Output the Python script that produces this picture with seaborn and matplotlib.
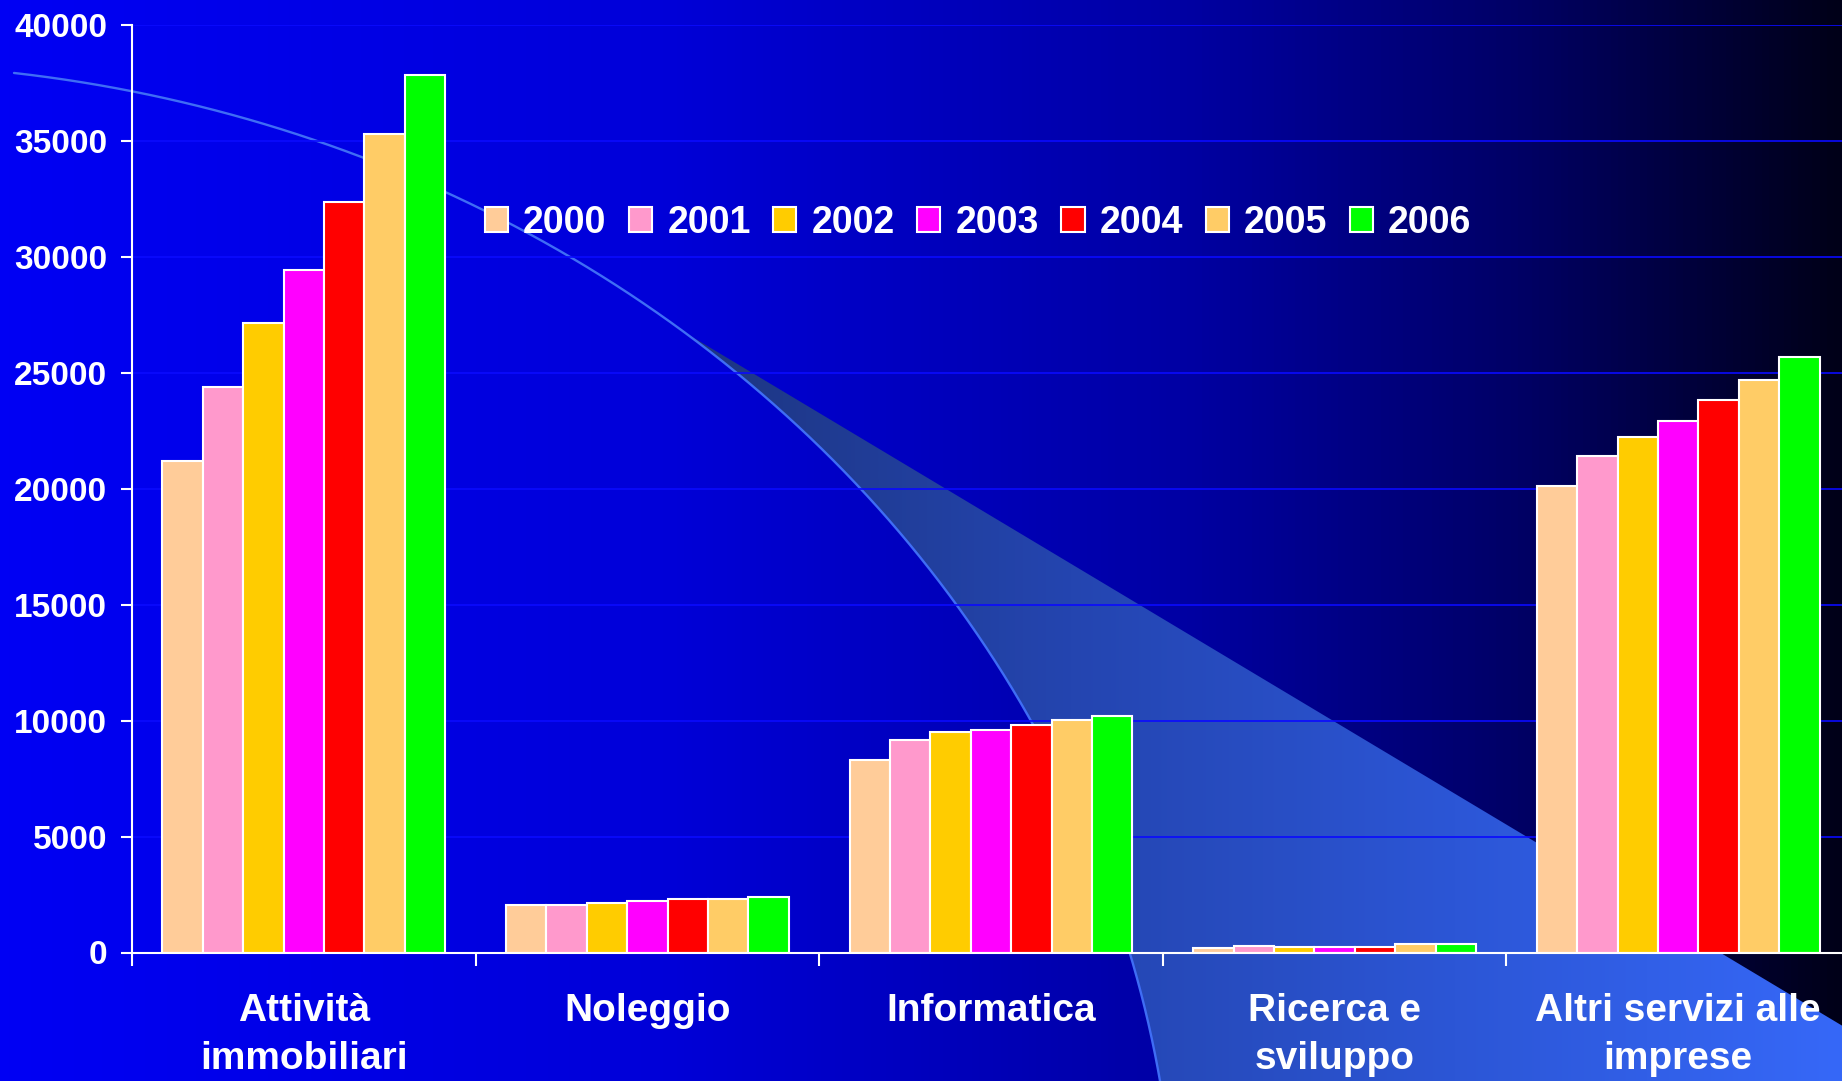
import numpy as np
import pandas as pd
import matplotlib
matplotlib.use("Agg")
import matplotlib.pyplot as plt
from matplotlib.colors import LinearSegmentedColormap
from matplotlib.patches import Polygon
import seaborn as sns

categorie = ["Attività\nimmobiliari", "Noleggio", "Informatica",
             "Ricerca e\nsviluppo", "Altri servizi alle\nimprese"]
anni = ["2000", "2001", "2002", "2003", "2004", "2005", "2006"]

attivita_immobiliari = [21200, 24400, 27150, 29440, 32370, 35300, 37850]
noleggio = [2050, 2050, 2150, 2240, 2320, 2310, 2410]
informatica = [8310, 9150, 9490, 9580, 9820, 10010, 10180]
ricerca_sviluppo = [190, 280, 250, 250, 250, 370, 380]
altri_servizi = [20120, 21430, 22230, 22940, 23830, 24710, 25700]

colori = ["#ffcc99", "#ff99cc", "#ffcc00", "#ff00ff", "#ff0000", "#ffcc66", "#00ff00"]

righe = []
for cat, valori in zip(categorie, [attivita_immobiliari, noleggio, informatica,
                                   ricerca_sviluppo, altri_servizi]):
    for anno, v in zip(anni, valori):
        righe.append((cat, anno, v))
df = pd.DataFrame(righe, columns=["settore", "anno", "valore"])

sns.set_theme(style="white")
plt.rcParams["font.family"] = ["Liberation Sans", "DejaVu Sans"]
plt.rcParams["font.weight"] = "bold"

W, H = 1842, 1081
fig = plt.figure(figsize=(W / 100, H / 100), dpi=100)

# sfondo del modello (gradiente, arco e cuneo chiaro)
bg = fig.add_axes([0, 0, 1, 1])
cmap_bg = LinearSegmentedColormap.from_list(
    "bg", [(0, "#0000f4"), (0.36, "#0000d8"), (0.64, "#0000a4"), (0.83, "#000064"), (1, "#000018")])
bg.imshow(np.linspace(0, 1, 512)[None, :], cmap=cmap_bg, extent=[0, W, H, 0],
          aspect="auto", interpolation="bicubic")

cx, cy, ea, eb = -150, 1270, 1326.4, 1206.3
t0 = np.arccos((14 - cx) / ea)
t1 = np.arcsin((cy - H) / eb)
t = np.linspace(t0, t1, 400)
xa, ya = cx + ea * np.cos(t), cy - eb * np.sin(t)

tw = np.linspace(np.arcsin((cy - 332) / eb), t1, 300)
xw, yw = cx + ea * np.cos(tw), cy - eb * np.sin(tw)
y_dx = 332 + 0.6 * (W - xw[0])
pts = np.vstack([np.column_stack([xw, yw]), [[W + 2, H + 2], [W + 2, y_dx]]])
cuneo = Polygon(pts, closed=True, facecolor="none", edgecolor="none")
bg.add_patch(cuneo)
cmap_w = LinearSegmentedColormap.from_list("w", ["#1d3580", "#2445b0", "#2c56d6", "#3668f8"])
im = bg.imshow(np.linspace(0, 1, 512)[None, :], cmap=cmap_w, extent=[xw[0], W, H, 0],
               aspect="auto", interpolation="bicubic")
im.set_clip_path(cuneo)
bg.plot(xa, ya, color="#3f6df5", lw=1.7)
bg.set_xlim(0, W)
bg.set_ylim(H, 0)
bg.axis("off")

# grafico
ax = fig.add_axes([132 / W, (H - 952.5) / H, 1718 / W, (952.5 - 25) / H])
ax.patch.set_alpha(0)
sns.barplot(data=df, x="settore", y="valore", hue="anno", palette=colori,
            width=0.823, edgecolor="white", linewidth=1.5, saturation=1,
            errorbar=None, ax=ax)

ax.set_xlim(-0.5, 4.5)
ax.set_ylim(0, 40000)
ax.set_yticks(np.arange(0, 40001, 5000))
ax.set_xlabel("")
ax.set_ylabel("")
ax.set_xticks(range(len(categorie)))
ax.set_xticklabels(categorie)
ax.set_xticks(np.arange(-0.5, len(categorie), 1), minor=True)
ax.tick_params(axis="x", which="major", length=0, pad=29, labelsize=28, labelcolor="white")
ax.tick_params(axis="x", which="minor", bottom=True, length=9.5, width=1.5,
               color="white", direction="out")
ax.tick_params(axis="y", length=8, width=1.5, color="white", labelsize=24,
               labelcolor="white", pad=10, direction="out", left=True)
for lbl in ax.get_xticklabels():
    lbl.set_linespacing(1.45)

ax.yaxis.grid(True, color="#0a0aff", lw=1.2)
ax.xaxis.grid(False)
ax.set_axisbelow(True)
for s in ["top", "right"]:
    ax.spines[s].set_visible(False)
for s in ["left", "bottom"]:
    ax.spines[s].set_color("white")
    ax.spines[s].set_linewidth(1.5)

handles, labels = ax.get_legend_handles_labels()
ax.get_legend().remove()
fig.legend(handles, labels, loc="center", bbox_to_anchor=(0.531, 0.794), ncol=7,
           frameon=False, prop={"weight": "bold", "size": 27}, labelcolor="white",
           handlelength=0.62, handleheight=0.64, handletextpad=0.4,
           columnspacing=0.6, borderpad=0)

fig.savefig("out.png", dpi=100)
